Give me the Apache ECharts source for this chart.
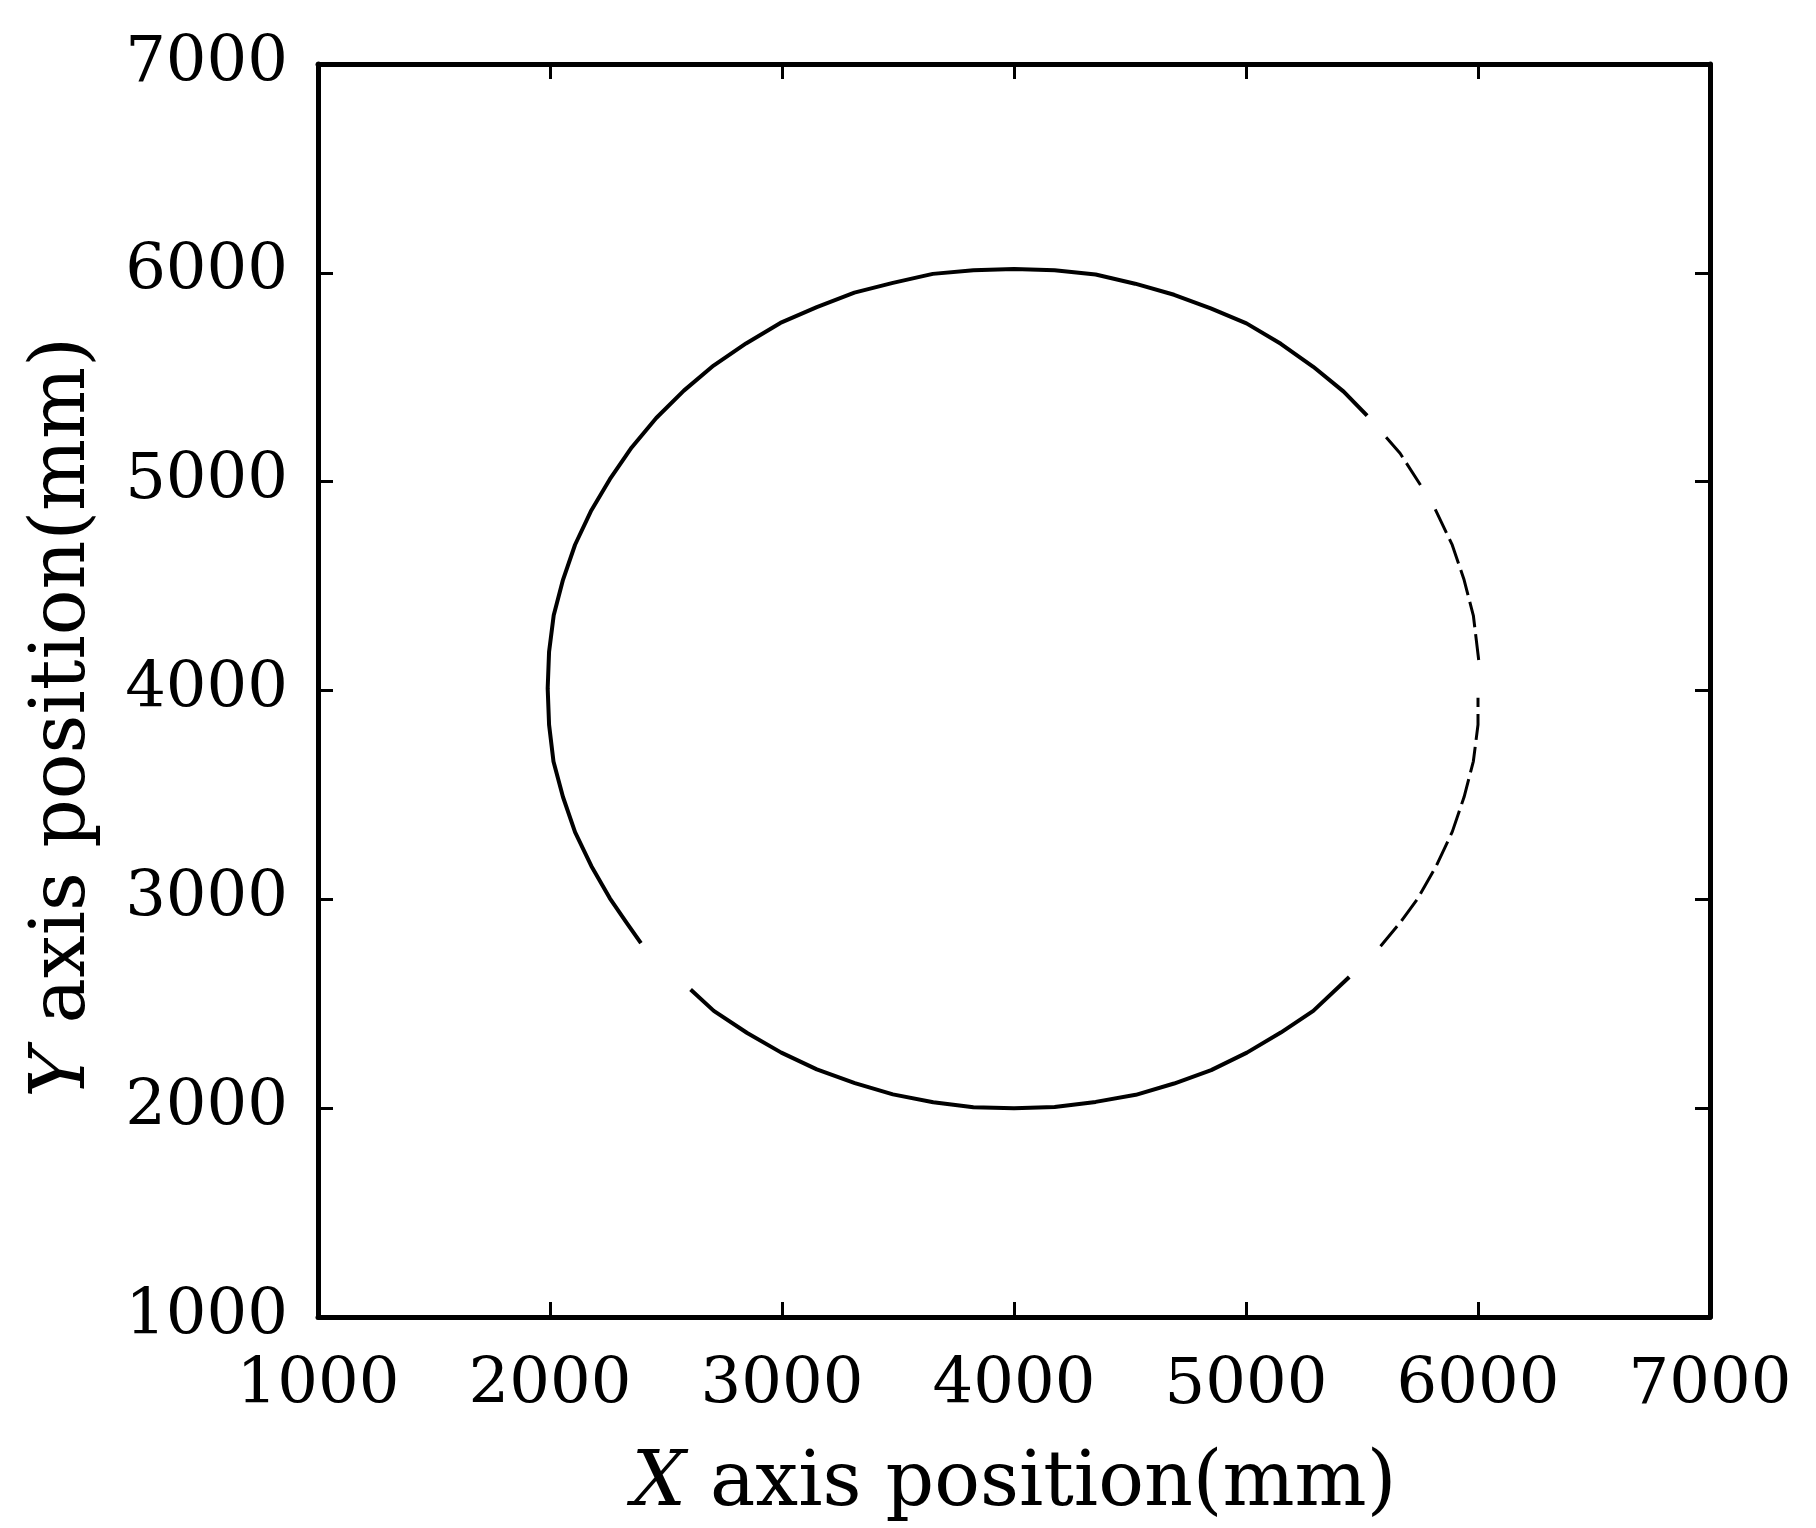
<!DOCTYPE html>
<html>
<head>
<meta charset="utf-8">
<script src="https://cdn.jsdelivr.net/npm/echarts@6/dist/echarts.min.js"></script>
<style>
  html, body { margin: 0; padding: 0; background: #fff; }
  #chart { width: 1816px; height: 1528px; }
</style>
</head>
<body>
<div id="chart"></div>
<script>
// axis ticks
var xTicks = [1000, 2000, 3000, 4000, 5000, 6000, 7000];
var yTicks = [1000, 2000, 3000, 4000, 5000, 6000, 7000];

// measured trajectory (mm), solid part, null = gap in the trace
var pathX = [5522, 5421, 5290, 5150, 5002, 4848, 4690, 4522, 4352, 4175, 4000, 3825, 3650, 3478, 3312, 3150,
             2993, 2845, 2705, 2577, 2458, 2352, 2258, 2176, 2108, 2056, 2016, 1996, 1990, 1996, 2015, 2056,
             2108, 2178, 2258, 2332, 2392, null, 2606, 2706, 2850, 2997, 3150, 3314, 3478, 3652, 3825, 4000,
             4175, 4352, 4525, 4690, 4850, 5004, 5150, 5290, 5445];
var pathY = [5316, 5431, 5550, 5660, 5758, 5830, 5895, 5948, 5992, 6012, 6018, 6012, 5995, 5952, 5905, 5836,
             5760, 5662, 5556, 5436, 5305, 5164, 5012, 4858, 4698, 4530, 4360, 4186, 4010, 3836, 3660, 3490,
             3322, 3160, 3005, 2885, 2790, null, 2568, 2466, 2360, 2266, 2186, 2120, 2066, 2028, 2004, 2000,
             2006, 2030, 2064, 2118, 2182, 2266, 2362, 2466, 2628];

// right side of the trace, broken into dashes
var dashX = [5580, 5664, 5741, 5820, 5889, 5940, 5980, 6000, 6000, null, 6003, 5980, 5940, 5889, 5805, null,
             5752, 5664, 5600];
var dashY = [2775, 2888, 3005, 3160, 3323, 3490, 3661, 3836, 3965, null, 4146, 4359, 4530, 4697, 4893, null,
             4984, 5136, 5218];

function pairs(xs, ys) {
  return xs.map(function (x, i) {
    return x === null ? ['-', '-'] : [x, ys[i]];
  });
}

var font = 'DejaVu Serif';
var chart = echarts.init(document.getElementById('chart'));

function frameAxis(extra) {
  var ax = {
    type: 'value',
    min: 1000,
    max: 7000,
    interval: 1000,
    splitLine: { show: false },
    axisLine: { show: true, onZero: false, lineStyle: { color: '#000', width: 5 } },
    axisTick: { show: true, inside: true, length: 15, lineStyle: { color: '#000', width: 3 } }
  };
  return Object.assign(ax, extra);
}

function nameRich() {
  return {
    fontFamily: font, fontSize: 76, color: '#000',
    rich: {
      i: { fontFamily: font, fontSize: 76, fontStyle: 'italic', color: '#000' },
      n: { fontFamily: font, fontSize: 76, color: '#000' }
    }
  };
}

var option = {
  backgroundColor: '#fff',
  animation: false,
  grid: { left: 318, right: 106, top: 64, bottom: 208 },
  xAxis: [
    frameAxis({
      position: 'bottom',
      name: '{i|X}{n| axis position(mm)}',
      nameLocation: 'middle',
      nameGap: 130,
      nameTextStyle: nameRich(),
      axisLabel: {
        margin: 37, fontFamily: font, fontSize: 64, color: '#000',
        formatter: function (v) { return xTicks.indexOf(v) >= 0 ? String(v) : ''; }
      }
    }),
    frameAxis({ position: 'top', axisLabel: { show: false } })
  ],
  yAxis: [
    frameAxis({
      position: 'left',
      name: '{i|Y}{n| axis position(mm)}',
      nameLocation: 'middle',
      nameGap: 216,
      nameTextStyle: Object.assign(nameRich(), { padding: [0, 54, 0, 0] }),
      axisLabel: {
        margin: 30, fontFamily: font, fontSize: 64, color: '#000',
        formatter: function (v) { return yTicks.indexOf(v) >= 0 ? String(v) : ''; }
      }
    }),
    frameAxis({ position: 'right', axisLabel: { show: false } })
  ],
  series: [
    {
      name: 'trajectory',
      type: 'line',
      xAxisIndex: 0,
      yAxisIndex: 0,
      data: pairs(pathX, pathY),
      showSymbol: false,
      connectNulls: false,
      lineStyle: { color: '#000', width: 4, join: 'round' }
    },
    {
      name: 'trajectory-right',
      type: 'line',
      xAxisIndex: 0,
      yAxisIndex: 0,
      data: pairs(dashX, dashY),
      showSymbol: false,
      connectNulls: false,
      lineStyle: { color: '#000', width: 3, type: [26, 7] }
    }
  ]
};

chart.setOption(option);
</script>
</body>
</html>
